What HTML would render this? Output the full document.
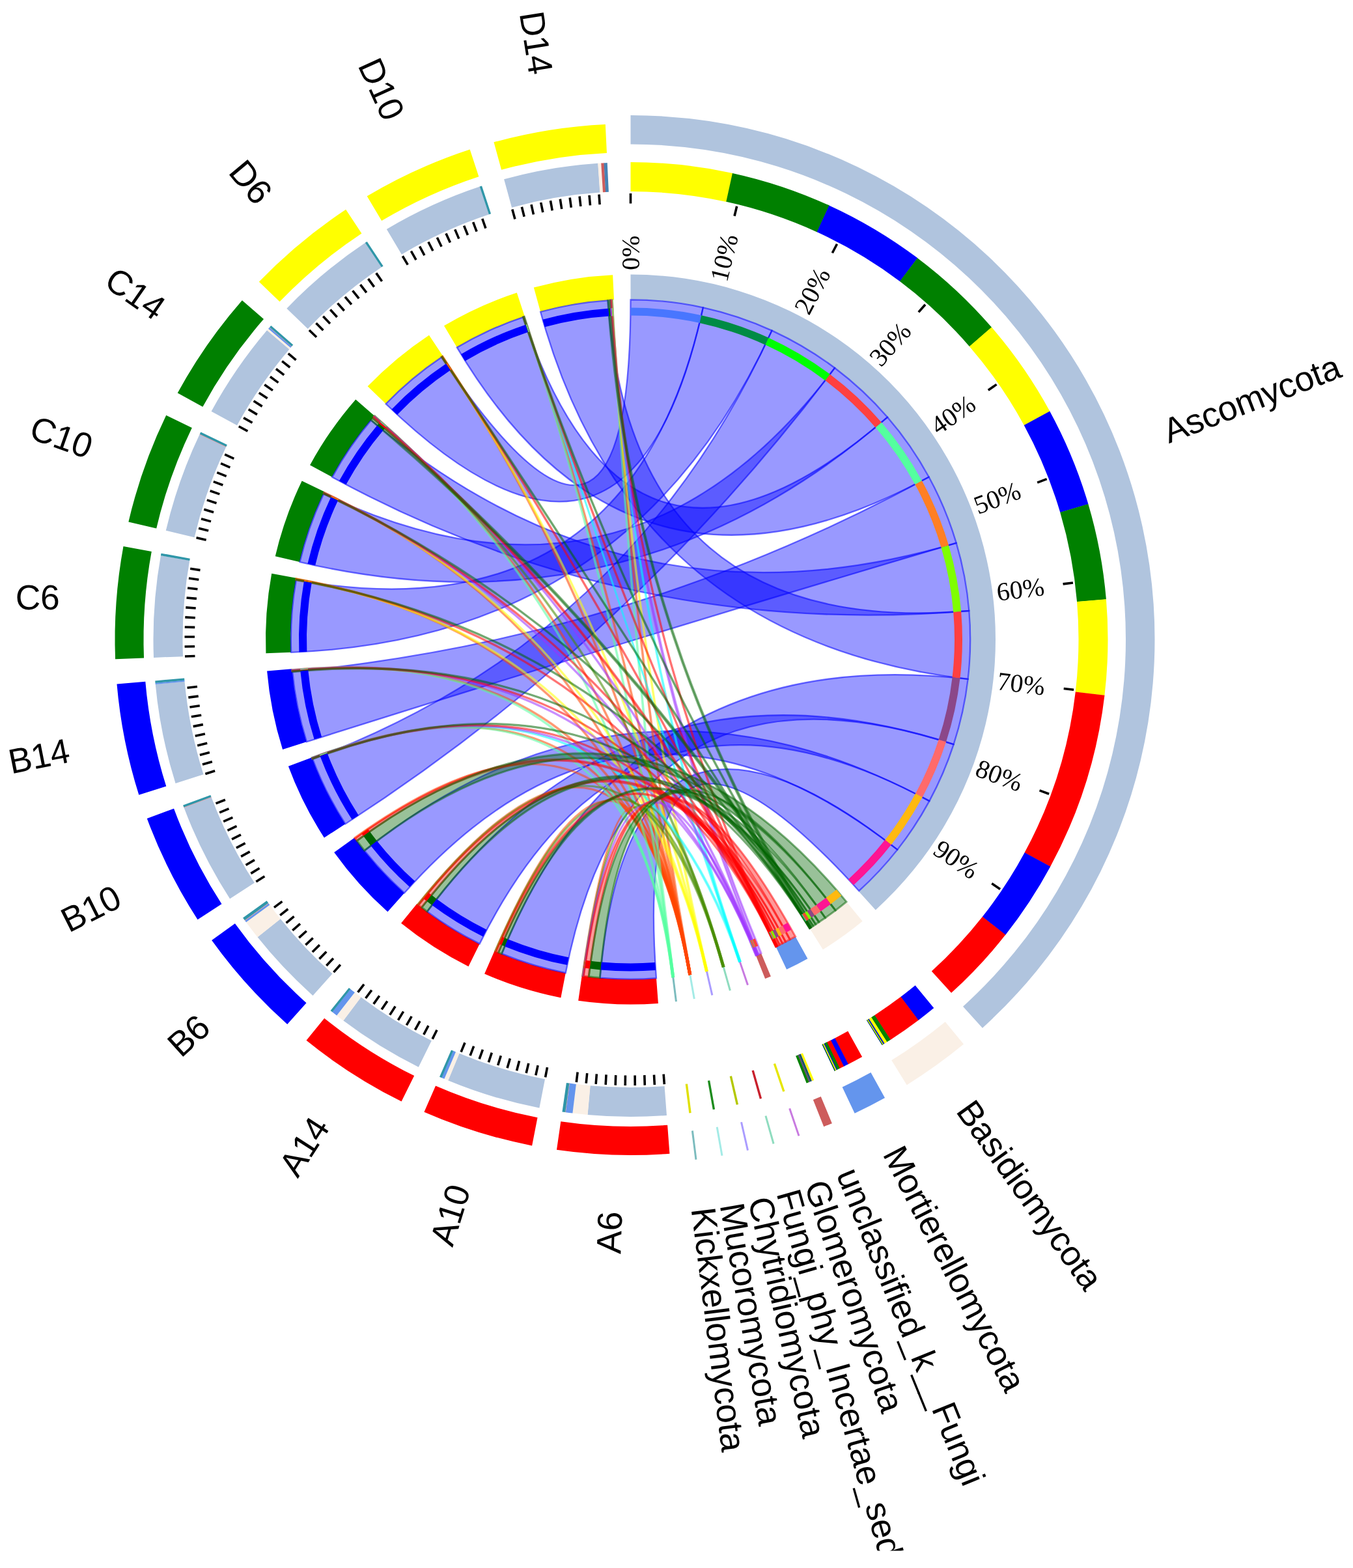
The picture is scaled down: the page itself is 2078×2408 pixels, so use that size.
<!DOCTYPE html>
<html><head><meta charset="utf-8"><title>Circos</title>
<style>html,body{margin:0;padding:0;background:#fff}svg{display:block}</style>
</head><body>
<svg xmlns="http://www.w3.org/2000/svg" width="2078" height="2408" viewBox="0 0 2078 2408">
<defs><clipPath id="cl"><rect x="0" y="0" width="2078" height="2381.5"/></clipPath></defs>
<rect width="2078" height="2408" fill="#fff"/>
<g id="outer">
<path d="M968.5 177A805 805 0 0 1 1508.92 1578.63L1479.05 1545.65A760.5 760.5 0 0 0 968.5 221.5Z" fill="#b0c4de"/>
<path d="M1480 1603.6A805 805 0 0 1 1392.7 1666.16L1369.25 1628.34A760.5 760.5 0 0 0 1451.73 1569.24Z" fill="#faf0e6"/>
<path d="M1359.02 1685.93A805 805 0 0 1 1312.65 1709.73L1293.63 1669.5A760.5 760.5 0 0 0 1337.43 1647.02Z" fill="#6495ed"/>
<path d="M1277.86 1725.18A805 805 0 0 1 1265.23 1730.31L1248.83 1688.95A760.5 760.5 0 0 0 1260.76 1684.1Z" fill="#cd5c5c"/>
<line x1="1212.7" y1="1702.23" x2="1226.99" y2="1744.37" stroke="#c87ae0" stroke-width="3"/>
<line x1="1175.95" y1="1713.66" x2="1188.09" y2="1756.47" stroke="#8fdcbf" stroke-width="3"/>
<line x1="1138.54" y1="1723.25" x2="1148.49" y2="1766.62" stroke="#aa9cff" stroke-width="3"/>
<line x1="1101.21" y1="1730.83" x2="1108.98" y2="1774.65" stroke="#a4ebe6" stroke-width="3"/>
<line x1="1063.42" y1="1736.55" x2="1068.98" y2="1780.71" stroke="#7cbcbe" stroke-width="3"/>
<path d="M1028.43 1771.73A792 792 0 0 1 854.99 1765.82L861.3 1722.28A748 748 0 0 0 1025.1 1727.86Z" fill="#ff0000"/>
<path d="M817.11 1759.4A792 792 0 0 1 651.42 1707.76L669.04 1667.44A748 748 0 0 0 825.52 1716.21Z" fill="#ff0000"/>
<path d="M616.6 1691.53A792 792 0 0 1 470.51 1597.85L498.17 1563.63A748 748 0 0 0 636.15 1652.11Z" fill="#ff0000"/>
<path d="M441.22 1572.97A792 792 0 0 1 325.17 1443.94L360.91 1418.28A748 748 0 0 0 470.52 1540.14Z" fill="#0000ff"/>
<path d="M303.52 1412.19A792 792 0 0 1 225.79 1257.03L267.05 1241.75A748 748 0 0 0 340.46 1388.29Z" fill="#0000ff"/>
<path d="M213.32 1220.69A792 792 0 0 1 179.47 1050.48L223.3 1046.67A748 748 0 0 0 255.28 1207.43Z" fill="#0000ff"/>
<path d="M177.07 1012.13A792 792 0 0 1 189.51 839.03L232.79 846.97A748 748 0 0 0 221.04 1010.45Z" fill="#008000"/>
<path d="M197.36 801.42A792 792 0 0 1 255.21 637.79L294.83 656.92A748 748 0 0 0 240.2 811.45Z" fill="#008000"/>
<path d="M272.74 603.6A792 792 0 0 1 371.86 461.15L405.01 490.09A748 748 0 0 0 311.39 624.63Z" fill="#008000"/>
<path d="M397.82 432.83A792 792 0 0 1 531.14 321.72L555.43 358.4A748 748 0 0 0 429.53 463.34Z" fill="#ffff00"/>
<path d="M563.67 301.28A792 792 0 0 1 721.66 229.45L735.37 271.26A748 748 0 0 0 586.16 339.1Z" fill="#ffff00"/>
<path d="M758.45 218.36A792 792 0 0 1 929.81 190.95L931.96 234.89A748 748 0 0 0 770.12 260.79Z" fill="#ffff00"/>
</g>
<g id="comp">
<path d="M968.5 249A733 733 0 0 1 1125.28 265.96L1115.65 309.92A688 688 0 0 0 968.5 294Z" fill="#ffff00"/>
<path d="M1124.9 265.88A733 733 0 0 1 1273.75 315.58L1255.01 356.5A688 688 0 0 0 1115.3 309.84Z" fill="#008000"/>
<path d="M1273.4 315.42A733 733 0 0 1 1409.32 396.37L1382.26 432.32A688 688 0 0 0 1254.68 356.35Z" fill="#0000ff"/>
<path d="M1409.02 396.14A733 733 0 0 1 1523.13 502.75L1489.08 532.17A688 688 0 0 0 1381.97 432.11Z" fill="#008000"/>
<path d="M1522.88 502.46A733 733 0 0 1 1612.43 631.79L1572.9 653.29A688 688 0 0 0 1488.84 531.9Z" fill="#ffff00"/>
<path d="M1612.25 631.46A733 733 0 0 1 1671.46 774.31L1628.3 787.06A688 688 0 0 0 1572.72 652.98Z" fill="#0000ff"/>
<path d="M1671.35 773.94A733 733 0 0 1 1698.92 920.54L1654.08 924.31A688 688 0 0 0 1628.2 786.71Z" fill="#008000"/>
<path d="M1698.89 920.15A733 733 0 0 1 1696.43 1068.03L1651.75 1062.75A688 688 0 0 0 1654.05 923.95Z" fill="#ffff00"/>
<path d="M1696.48 1067.65A733 733 0 0 1 1613.1 1330.97L1573.53 1309.55A688 688 0 0 0 1651.79 1062.39Z" fill="#ff0000"/>
<path d="M1613.28 1330.63A733 733 0 0 1 1544.06 1435.9L1508.72 1408.03A688 688 0 0 0 1573.7 1309.23Z" fill="#0000ff"/>
<path d="M1544.3 1435.59A733 733 0 0 1 1461.06 1524.84L1430.82 1491.51A688 688 0 0 0 1508.95 1407.75Z" fill="#ff0000"/>
<path d="M1434.25 1548.01A733 733 0 0 1 1410.32 1566.88L1383.2 1530.97A688 688 0 0 0 1405.66 1513.26Z" fill="#0000ff"/>
<path d="M1410.63 1566.65A733 733 0 0 1 1367.5 1596.89L1343.01 1559.14A688 688 0 0 0 1383.49 1530.75Z" fill="#ff0000"/>
<path d="M1367.82 1596.68A733 733 0 0 1 1362.08 1600.37L1337.92 1562.41A688 688 0 0 0 1343.31 1558.94Z" fill="#008000"/>
<path d="M1362.4 1600.17A733 733 0 0 1 1358.2 1602.82L1334.28 1564.71A688 688 0 0 0 1338.22 1562.22Z" fill="#ffff00"/>
<path d="M1358.53 1602.62A733 733 0 0 1 1356.9 1603.64L1333.06 1565.47A688 688 0 0 0 1334.58 1564.52Z" fill="#0000ff"/>
<path d="M1357.31 1603.38A733 733 0 0 1 1355.68 1604.4L1331.91 1566.19A688 688 0 0 0 1333.44 1565.23Z" fill="#008000"/>
<path d="M1356.71 1603.76A733 733 0 0 1 1355.08 1604.77L1331.34 1566.54A688 688 0 0 0 1332.87 1565.59Z" fill="#ffff00"/>
<path d="M1356.22 1604.06A733 733 0 0 1 1354.76 1604.97L1331.05 1566.73A688 688 0 0 0 1332.42 1565.87Z" fill="#ffff00"/>
<path d="M1355.73 1604.37A733 733 0 0 1 1354.76 1604.97L1331.05 1566.73A688 688 0 0 0 1331.96 1566.16Z" fill="#008000"/>
<path d="M1355.25 1604.67A733 733 0 0 1 1354.76 1604.97L1331.05 1566.73A688 688 0 0 0 1331.5 1566.44Z" fill="#0000ff"/>
<path d="M1324.09 1622.97A733 733 0 0 1 1302.54 1634.46L1282.03 1594.41A688 688 0 0 0 1302.26 1583.62Z" fill="#ff0000"/>
<path d="M1302.88 1634.29A733 733 0 0 1 1295.71 1637.91L1275.62 1597.65A688 688 0 0 0 1282.35 1594.24Z" fill="#0000ff"/>
<path d="M1296.05 1637.74A733 733 0 0 1 1289.53 1640.96L1269.82 1600.51A688 688 0 0 0 1275.94 1597.49Z" fill="#ff0000"/>
<path d="M1289.87 1640.79A733 733 0 0 1 1285.39 1642.96L1265.94 1602.38A688 688 0 0 0 1270.14 1600.35Z" fill="#008000"/>
<path d="M1285.74 1642.79A733 733 0 0 1 1284.01 1643.62L1264.64 1603A688 688 0 0 0 1266.26 1602.23Z" fill="#0000ff"/>
<path d="M1284.63 1643.32A733 733 0 0 1 1282.9 1644.15L1263.6 1603.5A688 688 0 0 0 1265.23 1602.72Z" fill="#ffff00"/>
<path d="M1283.94 1643.65A733 733 0 0 1 1282.21 1644.48L1262.95 1603.81A688 688 0 0 0 1264.58 1603.03Z" fill="#ffff00"/>
<path d="M1283.53 1643.85A733 733 0 0 1 1281.87 1644.64L1262.63 1603.96A688 688 0 0 0 1264.19 1603.22Z" fill="#ffff00"/>
<path d="M1283.11 1644.05A733 733 0 0 1 1281.87 1644.64L1262.63 1603.96A688 688 0 0 0 1263.8 1603.4Z" fill="#008000"/>
<path d="M1282.7 1644.24A733 733 0 0 1 1281.87 1644.64L1262.63 1603.96A688 688 0 0 0 1263.41 1603.59Z" fill="#008000"/>
<path d="M1282.28 1644.44A733 733 0 0 1 1281.87 1644.64L1262.63 1603.96A688 688 0 0 0 1263.02 1603.77Z" fill="#0000ff"/>
<path d="M1250.19 1658.71A733 733 0 0 1 1246.39 1660.28L1229.33 1618.64A688 688 0 0 0 1232.9 1617.17Z" fill="#ffff00"/>
<path d="M1246.75 1660.14A733 733 0 0 1 1245.47 1660.66L1228.47 1618.99A688 688 0 0 0 1229.67 1618.5Z" fill="#0000ff"/>
<path d="M1245.83 1660.51A733 733 0 0 1 1244.32 1661.12L1227.39 1619.43A688 688 0 0 0 1228.8 1618.86Z" fill="#008000"/>
<path d="M1244.68 1660.98A733 733 0 0 1 1243.52 1661.45L1226.64 1619.74A688 688 0 0 0 1227.72 1619.3Z" fill="#6a5a78"/>
<path d="M1243.88 1661.31A733 733 0 0 1 1242.94 1661.68L1226.1 1619.96A688 688 0 0 0 1226.97 1619.6Z" fill="#0000ff"/>
<path d="M1243.3 1661.54A733 733 0 0 1 1242.02 1662.05L1225.23 1620.3A688 688 0 0 0 1226.43 1619.82Z" fill="#8a6a3a"/>
<path d="M1242.38 1661.91A733 733 0 0 1 1238.69 1663.38L1222.1 1621.55A688 688 0 0 0 1225.57 1620.17Z" fill="#008000"/>
<line x1="1189.42" y1="1633.57" x2="1203.87" y2="1676.18" stroke="#e6e600" stroke-width="3.4"/>
<line x1="1156.18" y1="1643.91" x2="1168.45" y2="1687.2" stroke="#c8202c" stroke-width="3.4"/>
<line x1="1122.33" y1="1652.58" x2="1132.39" y2="1696.44" stroke="#b4c800" stroke-width="3.4"/>
<line x1="1088.56" y1="1659.44" x2="1096.41" y2="1703.75" stroke="#1e8c1e" stroke-width="3.4"/>
<line x1="1054.37" y1="1664.62" x2="1059.99" y2="1709.27" stroke="#e0e000" stroke-width="3.4"/>
<path d="M1023.97 1712.9A733 733 0 0 1 902.35 1712.01L906.41 1667.19A688 688 0 0 0 1020.56 1668.03Z" fill="#b0c4de"/>
<path d="M902.6 1712.03A733 733 0 0 1 879.14 1709.53L884.63 1664.87A688 688 0 0 0 906.65 1667.21Z" fill="#faf0e6"/>
<path d="M879.4 1709.56A733 733 0 0 1 868.61 1708.16L874.74 1663.58A688 688 0 0 0 884.87 1664.9Z" fill="#6495ed"/>
<path d="M868.86 1708.2A733 733 0 0 1 867.97 1708.07L874.15 1663.5A688 688 0 0 0 874.98 1663.61Z" fill="#e39aa2"/>
<path d="M868.23 1708.11A733 733 0 0 1 863.45 1707.43L869.9 1662.9A688 688 0 0 0 874.38 1663.53Z" fill="#2f96a8"/>
<path d="M828.39 1701.48A733 733 0 0 1 688.14 1659.26L705.35 1617.69A688 688 0 0 0 836.99 1657.31Z" fill="#b0c4de"/>
<path d="M688.37 1659.36A733 733 0 0 1 682.2 1656.78L699.78 1615.35A688 688 0 0 0 705.57 1617.78Z" fill="#faf0e6"/>
<path d="M682.44 1656.87A733 733 0 0 1 678.2 1655.07L696.03 1613.75A688 688 0 0 0 700 1615.44Z" fill="#6495ed"/>
<path d="M678.44 1655.17A733 733 0 0 1 675.04 1653.69L693.06 1612.46A688 688 0 0 0 696.25 1613.84Z" fill="#2f96a8"/>
<path d="M642.81 1638.67A733 733 0 0 1 527.19 1567.26L554.28 1531.33A688 688 0 0 0 662.81 1598.36Z" fill="#b0c4de"/>
<path d="M527.39 1567.42A733 733 0 0 1 516.98 1559.42L544.7 1523.97A688 688 0 0 0 554.48 1531.48Z" fill="#faf0e6"/>
<path d="M517.18 1559.58A733 733 0 0 1 510.16 1554.03L538.3 1518.91A688 688 0 0 0 544.89 1524.12Z" fill="#6495ed"/>
<path d="M510.36 1554.19A733 733 0 0 1 507.61 1551.97L535.9 1516.98A688 688 0 0 0 538.49 1519.06Z" fill="#2f96a8"/>
<path d="M480.5 1528.95A733 733 0 0 1 395.47 1439.09L430.65 1411.03A688 688 0 0 0 510.46 1495.37Z" fill="#b0c4de"/>
<path d="M395.63 1439.29A733 733 0 0 1 377.86 1416.09L414.12 1389.44A688 688 0 0 0 430.8 1411.22Z" fill="#faf0e6"/>
<path d="M378.01 1416.3A733 733 0 0 1 376.15 1413.75L412.52 1387.25A688 688 0 0 0 414.26 1389.64Z" fill="#6495ed"/>
<path d="M376.3 1413.96A733 733 0 0 1 375.68 1413.1L412.07 1386.64A688 688 0 0 0 412.66 1387.44Z" fill="#e39aa2"/>
<path d="M375.83 1413.31A733 733 0 0 1 373.09 1409.53L409.65 1383.28A688 688 0 0 0 412.21 1386.83Z" fill="#2f96a8"/>
<path d="M353.06 1380.15A733 733 0 0 1 282.55 1240.37L324.66 1224.51A688 688 0 0 0 390.84 1355.7Z" fill="#b0c4de"/>
<path d="M282.64 1240.61A733 733 0 0 1 282.26 1239.62L324.39 1223.81A688 688 0 0 0 324.74 1224.74Z" fill="#e39aa2"/>
<path d="M282.35 1239.86A733 733 0 0 1 281.12 1236.54L323.32 1220.92A688 688 0 0 0 324.48 1224.03Z" fill="#2f96a8"/>
<path d="M269.58 1202.91A733 733 0 0 1 238.73 1050.73L283.53 1046.51A688 688 0 0 0 312.49 1189.34Z" fill="#b0c4de"/>
<path d="M238.75 1050.99A733 733 0 0 1 238.54 1048.65L283.35 1044.56A688 688 0 0 0 283.55 1046.75Z" fill="#6495ed"/>
<path d="M238.56 1048.9A733 733 0 0 1 238.24 1045.38L283.08 1041.48A688 688 0 0 0 283.37 1044.79Z" fill="#2f96a8"/>
<path d="M236.03 1009.88A733 733 0 0 1 246.96 852.91L291.25 860.84A688 688 0 0 0 281 1008.17Z" fill="#b0c4de"/>
<path d="M246.91 853.16A733 733 0 0 1 247.54 849.68L291.8 857.8A688 688 0 0 0 291.21 861.07Z" fill="#2f96a8"/>
<path d="M254.81 814.87A733 733 0 0 1 306.51 667.27L347.15 686.59A688 688 0 0 0 298.62 825.13Z" fill="#b0c4de"/>
<path d="M306.4 667.5A733 733 0 0 1 306.92 666.4L347.54 685.77A688 688 0 0 0 347.05 686.81Z" fill="#e39aa2"/>
<path d="M306.81 666.63A733 733 0 0 1 308.34 663.44L348.87 682.99A688 688 0 0 0 347.43 685.99Z" fill="#2f96a8"/>
<path d="M324.57 631.79A733 733 0 0 1 410.17 507.07L444.45 536.23A688 688 0 0 0 364.1 653.29Z" fill="#b0c4de"/>
<path d="M410 507.27A733 733 0 0 1 412.26 504.63L446.41 533.93A688 688 0 0 0 444.29 536.41Z" fill="#faf0e6"/>
<path d="M412.09 504.82A733 733 0 0 1 413.94 502.67L447.99 532.1A688 688 0 0 0 446.25 534.11Z" fill="#6495ed"/>
<path d="M413.77 502.87A733 733 0 0 1 414.26 502.31L448.28 531.76A688 688 0 0 0 447.83 532.28Z" fill="#e39aa2"/>
<path d="M414.09 502.5A733 733 0 0 1 416.31 499.95L450.21 529.54A688 688 0 0 0 448.13 531.94Z" fill="#2f96a8"/>
<path d="M440.34 473.74A733 733 0 0 1 560.98 372.72L586 410.13A688 688 0 0 0 472.76 504.94Z" fill="#b0c4de"/>
<path d="M560.77 372.87A733 733 0 0 1 563.72 370.9L588.57 408.42A688 688 0 0 0 585.8 410.26Z" fill="#2f96a8"/>
<path d="M593.83 351.99A733 733 0 0 1 736.93 286.54L751.14 329.24A688 688 0 0 0 616.83 390.67Z" fill="#b0c4de"/>
<path d="M736.68 286.62A733 733 0 0 1 740.04 285.51L754.07 328.27A688 688 0 0 0 750.91 329.31Z" fill="#2f96a8"/>
<path d="M774.09 275.25A733 733 0 0 1 918.49 250.71L921.56 295.6A688 688 0 0 0 786.03 318.64Z" fill="#b0c4de"/>
<path d="M918.23 250.73A733 733 0 0 1 923.47 250.38L926.23 295.3A688 688 0 0 0 921.32 295.62Z" fill="#faf0e6"/>
<path d="M923.21 250.4A733 733 0 0 1 927.81 250.13L930.3 295.06A688 688 0 0 0 925.99 295.31Z" fill="#cd5c5c"/>
<path d="M927.55 250.14A733 733 0 0 1 932.69 249.88L934.89 294.82A688 688 0 0 0 930.06 295.07Z" fill="#4682b4"/>
</g>
<g id="ticks" stroke="#000" stroke-width="3.6">
<line x1="968.5" y1="312.5" x2="968.5" y2="297"/>
<line x1="1128.01" y1="331.78" x2="1131.7" y2="316.72"/>
<line x1="1278.32" y1="388.5" x2="1285.5" y2="374.76"/>
<line x1="1410.8" y1="479.41" x2="1421.04" y2="467.77"/>
<line x1="1517.81" y1="599.26" x2="1530.52" y2="590.39"/>
<line x1="1593.18" y1="741.15" x2="1607.64" y2="735.57"/>
<line x1="1632.57" y1="896.91" x2="1647.94" y2="894.94"/>
<line x1="1633.72" y1="1057.57" x2="1649.12" y2="1059.32"/>
<line x1="1596.56" y1="1213.88" x2="1611.1" y2="1219.25"/>
<line x1="1523.23" y1="1356.83" x2="1536.08" y2="1365.51"/>
<line x1="1019.16" y1="1649.58" x2="1020.34" y2="1665.04"/>
<line x1="1004.5" y1="1650.53" x2="1005.33" y2="1666.01"/>
<line x1="989.81" y1="1651.16" x2="990.3" y2="1666.65"/>
<line x1="975.11" y1="1651.47" x2="975.27" y2="1666.97"/>
<line x1="960.41" y1="1651.45" x2="960.23" y2="1666.95"/>
<line x1="945.72" y1="1651.11" x2="945.19" y2="1666.6"/>
<line x1="931.03" y1="1650.45" x2="930.17" y2="1665.93"/>
<line x1="916.37" y1="1649.47" x2="915.16" y2="1664.92"/>
<line x1="901.73" y1="1648.16" x2="900.18" y2="1663.58"/>
<line x1="887.12" y1="1646.54" x2="885.23" y2="1661.92"/>
<line x1="840.52" y1="1639.15" x2="837.56" y2="1654.37"/>
<line x1="826.13" y1="1636.19" x2="822.83" y2="1651.33"/>
<line x1="811.8" y1="1632.9" x2="808.17" y2="1647.97"/>
<line x1="797.55" y1="1629.31" x2="793.59" y2="1644.29"/>
<line x1="783.38" y1="1625.4" x2="779.09" y2="1640.29"/>
<line x1="769.3" y1="1621.18" x2="764.68" y2="1635.98"/>
<line x1="755.31" y1="1616.65" x2="750.38" y2="1631.34"/>
<line x1="741.43" y1="1611.82" x2="736.17" y2="1626.4"/>
<line x1="727.66" y1="1606.68" x2="722.08" y2="1621.14"/>
<line x1="714" y1="1601.24" x2="708.11" y2="1615.58"/>
<line x1="671.03" y1="1581.78" x2="664.14" y2="1595.67"/>
<line x1="657.93" y1="1575.11" x2="650.74" y2="1588.84"/>
<line x1="644.98" y1="1568.15" x2="637.49" y2="1581.72"/>
<line x1="632.19" y1="1560.9" x2="624.41" y2="1574.3"/>
<line x1="619.56" y1="1553.38" x2="611.49" y2="1566.61"/>
<line x1="607.1" y1="1545.58" x2="598.74" y2="1558.63"/>
<line x1="594.82" y1="1537.51" x2="586.17" y2="1550.37"/>
<line x1="582.71" y1="1529.17" x2="573.78" y2="1541.84"/>
<line x1="570.79" y1="1520.57" x2="561.58" y2="1533.04"/>
<line x1="559.06" y1="1511.71" x2="549.59" y2="1523.97"/>
<line x1="522.78" y1="1481.56" x2="512.46" y2="1493.13"/>
<line x1="511.92" y1="1471.66" x2="501.35" y2="1482.99"/>
<line x1="501.28" y1="1461.52" x2="490.46" y2="1472.62"/>
<line x1="490.86" y1="1451.14" x2="479.81" y2="1462"/>
<line x1="480.68" y1="1440.54" x2="469.39" y2="1451.16"/>
<line x1="470.73" y1="1429.72" x2="459.21" y2="1440.09"/>
<line x1="461.02" y1="1418.69" x2="449.27" y2="1428.8"/>
<line x1="451.56" y1="1407.44" x2="439.59" y2="1417.29"/>
<line x1="442.34" y1="1395.99" x2="430.16" y2="1405.57"/>
<line x1="433.38" y1="1384.34" x2="420.99" y2="1393.65"/>
<line x1="406.37" y1="1345.66" x2="393.36" y2="1354.07"/>
<line x1="398.53" y1="1333.23" x2="385.33" y2="1341.36"/>
<line x1="390.95" y1="1320.63" x2="377.58" y2="1328.47"/>
<line x1="383.66" y1="1307.87" x2="370.12" y2="1315.41"/>
<line x1="376.64" y1="1294.95" x2="362.94" y2="1302.19"/>
<line x1="369.92" y1="1281.88" x2="356.06" y2="1288.82"/>
<line x1="363.48" y1="1268.67" x2="349.47" y2="1275.3"/>
<line x1="357.33" y1="1255.31" x2="343.18" y2="1261.64"/>
<line x1="351.48" y1="1241.83" x2="337.19" y2="1247.84"/>
<line x1="345.92" y1="1228.22" x2="331.51" y2="1233.92"/>
<line x1="330.13" y1="1183.77" x2="315.35" y2="1188.44"/>
<line x1="325.85" y1="1169.7" x2="310.97" y2="1174.05"/>
<line x1="321.89" y1="1155.55" x2="306.92" y2="1159.57"/>
<line x1="318.23" y1="1141.31" x2="303.18" y2="1145"/>
<line x1="314.89" y1="1127" x2="299.76" y2="1130.35"/>
<line x1="311.86" y1="1112.61" x2="296.66" y2="1115.64"/>
<line x1="309.15" y1="1098.17" x2="293.89" y2="1100.85"/>
<line x1="306.76" y1="1083.66" x2="291.44" y2="1086.02"/>
<line x1="304.69" y1="1069.11" x2="289.32" y2="1071.13"/>
<line x1="302.94" y1="1054.51" x2="287.53" y2="1056.19"/>
<line x1="299.48" y1="1007.47" x2="284" y2="1008.06"/>
<line x1="299.09" y1="992.77" x2="283.59" y2="993.02"/>
<line x1="299.01" y1="978.07" x2="283.51" y2="977.98"/>
<line x1="299.26" y1="963.38" x2="283.77" y2="962.95"/>
<line x1="299.83" y1="948.69" x2="284.35" y2="947.92"/>
<line x1="300.72" y1="934.02" x2="285.26" y2="932.91"/>
<line x1="301.94" y1="919.37" x2="286.5" y2="917.92"/>
<line x1="303.47" y1="904.75" x2="288.08" y2="902.96"/>
<line x1="305.33" y1="890.17" x2="289.97" y2="888.04"/>
<line x1="307.5" y1="875.63" x2="292.2" y2="873.17"/>
<line x1="316.64" y1="829.35" x2="301.54" y2="825.81"/>
<line x1="320.14" y1="815.07" x2="305.13" y2="811.21"/>
<line x1="323.97" y1="800.88" x2="309.04" y2="796.68"/>
<line x1="328.1" y1="786.77" x2="313.27" y2="782.25"/>
<line x1="332.54" y1="772.76" x2="317.81" y2="767.91"/>
<line x1="337.28" y1="758.85" x2="322.67" y2="753.68"/>
<line x1="342.34" y1="745.04" x2="327.84" y2="739.56"/>
<line x1="347.69" y1="731.35" x2="333.32" y2="725.55"/>
<line x1="353.34" y1="717.78" x2="339.1" y2="711.67"/>
<line x1="359.29" y1="704.34" x2="345.19" y2="697.91"/>
<line x1="380.36" y1="662.13" x2="366.74" y2="654.73"/>
<line x1="387.52" y1="649.3" x2="374.07" y2="641.59"/>
<line x1="394.96" y1="636.62" x2="381.69" y2="628.63"/>
<line x1="402.68" y1="624.11" x2="389.59" y2="615.83"/>
<line x1="410.68" y1="611.78" x2="397.76" y2="603.21"/>
<line x1="418.94" y1="599.62" x2="406.22" y2="590.77"/>
<line x1="427.47" y1="587.65" x2="414.94" y2="578.52"/>
<line x1="436.26" y1="575.86" x2="423.93" y2="566.46"/>
<line x1="445.3" y1="564.28" x2="433.19" y2="554.61"/>
<line x1="454.6" y1="552.89" x2="442.7" y2="542.96"/>
<line x1="486.09" y1="517.77" x2="474.92" y2="507.02"/>
<line x1="496.4" y1="507.29" x2="485.47" y2="496.3"/>
<line x1="506.94" y1="497.04" x2="496.25" y2="485.81"/>
<line x1="517.69" y1="487.02" x2="507.26" y2="475.56"/>
<line x1="528.67" y1="477.24" x2="518.49" y2="465.56"/>
<line x1="539.86" y1="467.71" x2="529.93" y2="455.8"/>
<line x1="551.25" y1="458.42" x2="541.59" y2="446.3"/>
<line x1="562.85" y1="449.39" x2="553.46" y2="437.06"/>
<line x1="574.64" y1="440.61" x2="565.52" y2="428.08"/>
<line x1="586.62" y1="432.09" x2="577.78" y2="419.36"/>
<line x1="626.29" y1="406.57" x2="618.37" y2="393.25"/>
<line x1="639.01" y1="399.19" x2="631.38" y2="385.7"/>
<line x1="651.88" y1="392.1" x2="644.55" y2="378.44"/>
<line x1="664.91" y1="385.29" x2="657.88" y2="371.48"/>
<line x1="678.08" y1="378.77" x2="671.36" y2="364.8"/>
<line x1="691.39" y1="372.54" x2="684.98" y2="358.43"/>
<line x1="704.84" y1="366.6" x2="698.74" y2="352.35"/>
<line x1="718.42" y1="360.96" x2="712.63" y2="346.58"/>
<line x1="732.11" y1="355.62" x2="726.64" y2="341.12"/>
<line x1="745.92" y1="350.58" x2="740.77" y2="335.96"/>
<line x1="790.94" y1="336.48" x2="786.82" y2="321.53"/>
<line x1="805.15" y1="332.73" x2="801.37" y2="317.7"/>
<line x1="819.44" y1="329.3" x2="815.99" y2="314.19"/>
<line x1="833.81" y1="326.19" x2="830.69" y2="311.01"/>
<line x1="848.24" y1="323.39" x2="845.46" y2="308.14"/>
<line x1="862.73" y1="320.91" x2="860.28" y2="305.6"/>
<line x1="877.27" y1="318.75" x2="875.16" y2="303.39"/>
<line x1="891.85" y1="316.9" x2="890.08" y2="301.5"/>
<line x1="906.47" y1="315.38" x2="905.04" y2="299.95"/>
<line x1="921.12" y1="314.18" x2="920.03" y2="298.72"/>
</g>
<g id="ticklabels" font-family="'Liberation Serif', serif" font-size="40" fill="#000">
<text transform="translate(968.5 415) rotate(-90)" dy="0.33em">0%</text>
<text transform="translate(1103.59 431.33) rotate(-76.22)" dy="0.33em">10%</text>
<text transform="translate(1230.89 479.37) rotate(-62.43)" dy="0.33em">20%</text>
<text transform="translate(1343.09 556.35) rotate(-48.65)" dy="0.33em">30%</text>
<text transform="translate(1433.71 657.85) rotate(-34.87)" dy="0.33em">40%</text>
<text transform="translate(1497.54 778.02) rotate(-21.08)" dy="0.33em">50%</text>
<text transform="translate(1530.9 909.93) rotate(-7.3)" dy="0.33em">60%</text>
<text transform="translate(1531.88 1046) rotate(6.48)" dy="0.33em">70%</text>
<text transform="translate(1500.41 1178.38) rotate(20.26)" dy="0.33em">80%</text>
<text transform="translate(1438.3 1299.45) rotate(34.05)" dy="0.33em">90%</text>
</g>
<g id="ring">
<path d="M968.5 421.5A560.5 560.5 0 0 1 1344.78 1397.42L1318.94 1368.88A522 522 0 0 0 968.5 460Z" fill="#b0c4de"/>
<path d="M1324.64 1414.81A560.5 560.5 0 0 1 1263.86 1458.36L1243.57 1425.64A522 522 0 0 0 1300.18 1385.08Z" fill="#faf0e6"/>
<path d="M1240.41 1472.13A560.5 560.5 0 0 1 1208.12 1488.7L1191.66 1453.89A522 522 0 0 0 1221.73 1438.46Z" fill="#6495ed"/>
<path d="M1183.9 1499.46A560.5 560.5 0 0 1 1175.11 1503.03L1160.92 1467.24A522 522 0 0 0 1169.1 1463.92Z" fill="#cd5c5c"/>
<line x1="1136.12" y1="1476.36" x2="1148.48" y2="1512.82" stroke="#c87ae0" stroke-width="3"/>
<line x1="1110.89" y1="1484.2" x2="1121.4" y2="1521.24" stroke="#8fdcbf" stroke-width="3"/>
<line x1="1085.21" y1="1490.78" x2="1093.82" y2="1528.31" stroke="#aa9cff" stroke-width="3"/>
<line x1="1059.59" y1="1495.99" x2="1066.31" y2="1533.9" stroke="#a4ebe6" stroke-width="3"/>
<line x1="1033.65" y1="1499.92" x2="1038.46" y2="1538.12" stroke="#7cbcbe" stroke-width="3"/>
<path d="M1010.92 1540.89A560.5 560.5 0 0 1 888.17 1536.71L893.69 1498.61A522 522 0 0 0 1008 1502.5Z" fill="#ff0000"/>
<path d="M861.36 1532.16A560.5 560.5 0 0 1 744.1 1495.62L759.52 1460.34A522 522 0 0 0 868.72 1494.37Z" fill="#ff0000"/>
<path d="M719.46 1484.13A560.5 560.5 0 0 1 616.07 1417.84L640.28 1387.9A522 522 0 0 0 736.56 1449.64Z" fill="#ff0000"/>
<path d="M595.35 1400.23A560.5 560.5 0 0 1 513.21 1308.92L544.49 1286.46A522 522 0 0 0 620.98 1371.5Z" fill="#0000ff"/>
<path d="M497.89 1286.45A560.5 560.5 0 0 1 442.88 1176.64L478.99 1163.27A522 522 0 0 0 530.22 1265.54Z" fill="#0000ff"/>
<path d="M434.06 1150.92A560.5 560.5 0 0 1 410.1 1030.46L448.45 1027.13A522 522 0 0 0 470.77 1139.32Z" fill="#0000ff"/>
<path d="M408.41 1003.32A560.5 560.5 0 0 1 417.21 880.82L455.08 887.77A522 522 0 0 0 446.88 1001.86Z" fill="#008000"/>
<path d="M422.76 854.2A560.5 560.5 0 0 1 463.7 738.41L498.38 755.14A522 522 0 0 0 460.25 862.98Z" fill="#008000"/>
<path d="M476.11 714.21A560.5 560.5 0 0 1 546.26 613.39L575.26 638.71A522 522 0 0 0 509.93 732.6Z" fill="#008000"/>
<path d="M564.63 593.35A560.5 560.5 0 0 1 658.98 514.72L680.24 546.81A522 522 0 0 0 592.37 620.04Z" fill="#ffff00"/>
<path d="M682 500.25A560.5 560.5 0 0 1 793.81 449.42L805.81 486A522 522 0 0 0 701.68 533.34Z" fill="#ffff00"/>
<path d="M819.84 441.57A560.5 560.5 0 0 1 941.12 422.17L943 460.62A522 522 0 0 0 830.06 478.69Z" fill="#ffff00"/>
</g>
<g id="ribbons" stroke-linejoin="miter" stroke-miterlimit="2" stroke-width="2.3">
<g fill="rgba(0,0,255,0.4)" stroke="rgba(0,0,255,0.55)">
<path d="M968.5 460.3A521.7 521.7 0 0 1 1079.82 472.31Q968.5 982 592.59 620.25A521.7 521.7 0 0 1 678.28 548.48Q968.5 982 968.5 460.3Z"/>
<path d="M1079.82 472.31A521.7 521.7 0 0 1 1185.51 507.58Q968.5 982 447.18 1001.84A521.7 521.7 0 0 1 454.85 890.69Q968.5 982 1079.82 472.31Z"/>
<path d="M1185.51 507.58A521.7 521.7 0 0 1 1282.03 565.02Q968.5 982 530.47 1265.37A521.7 521.7 0 0 1 480.16 1165.56Q968.5 982 1185.51 507.58Z"/>
<path d="M1282.03 565.02A521.7 521.7 0 0 1 1363.07 640.7Q968.5 982 460.54 863.05A521.7 521.7 0 0 1 497.15 758.39Q968.5 982 1282.03 565.02Z"/>
<path d="M1363.07 640.7A521.7 521.7 0 0 1 1426.67 732.51Q968.5 982 701.84 533.6A521.7 521.7 0 0 1 803.39 487.12Q968.5 982 1363.07 640.7Z"/>
<path d="M1426.67 732.51A521.7 521.7 0 0 1 1468.74 833.92Q968.5 982 471.06 1139.23A521.7 521.7 0 0 1 449.17 1031.64Q968.5 982 1426.67 732.51Z"/>
<path d="M1468.74 833.92A521.7 521.7 0 0 1 1488.34 937.98Q968.5 982 510.2 732.75A521.7 521.7 0 0 1 569.97 645.33Q968.5 982 1468.74 833.92Z"/>
<path d="M1488.34 937.98A521.7 521.7 0 0 1 1486.63 1042.96Q968.5 982 830.13 478.98A521.7 521.7 0 0 1 933.65 461.47Q968.5 982 1488.34 937.98Z"/>
<path d="M1486.63 1042.96A521.7 521.7 0 0 1 1464.69 1143.13Q968.5 982 868.78 1494.08A521.7 521.7 0 0 1 770.54 1464.68Q968.5 982 1486.63 1042.96Z"/>
<path d="M1464.69 1143.13A521.7 521.7 0 0 1 1427.41 1230.13Q968.5 982 736.7 1449.37A521.7 521.7 0 0 1 656.06 1399.8Q968.5 982 1464.69 1143.13Z"/>
<path d="M1427.41 1230.13A521.7 521.7 0 0 1 1378.31 1304.84Q968.5 982 621.18 1371.28A521.7 521.7 0 0 1 559.82 1306.27Q968.5 982 1427.41 1230.13Z"/>
<path d="M1378.31 1304.84A521.7 521.7 0 0 1 1319.27 1368.17Q968.5 982 1007.98 1502.2A521.7 521.7 0 0 1 921.4 1501.57Q968.5 982 1378.31 1304.84Z"/>
</g>
<g fill="rgba(255,69,0,0.4)" stroke="rgba(255,69,0,0.5)" stroke-width="3">
<path d="M1060.44 1495.54A521.7 521.7 0 0 1 1058.64 1495.85Q968.5 982 939.38 461.11A521.7 521.7 0 0 1 940.47 461.05Q968.5 982 1060.44 1495.54Z"/>
<path d="M1060.44 1495.54A521.7 521.7 0 0 1 1058.64 1495.85Q968.5 982 804.34 486.8A521.7 521.7 0 0 1 805.38 486.46Q968.5 982 1060.44 1495.54Z"/>
<path d="M1060.44 1495.54A521.7 521.7 0 0 1 1058.64 1495.85Q968.5 982 678.96 548.02A521.7 521.7 0 0 1 679.87 547.41Q968.5 982 1060.44 1495.54Z"/>
<path d="M1060.44 1495.54A521.7 521.7 0 0 1 1058.64 1495.85Q968.5 982 574.89 639.6A521.7 521.7 0 0 1 575.49 638.91Q968.5 982 1060.44 1495.54Z"/>
<path d="M1060.44 1495.54A521.7 521.7 0 0 1 1058.64 1495.85Q968.5 982 497.66 757.32A521.7 521.7 0 0 1 498.13 756.33Q968.5 982 1060.44 1495.54Z"/>
<path d="M1060.44 1495.54A521.7 521.7 0 0 1 1058.64 1495.85Q968.5 982 455 889.88A521.7 521.7 0 0 1 455.19 888.81Q968.5 982 1060.44 1495.54Z"/>
<path d="M1060.44 1495.54A521.7 521.7 0 0 1 1058.64 1495.85Q968.5 982 448.97 1029.56A521.7 521.7 0 0 1 448.87 1028.47Q968.5 982 1060.44 1495.54Z"/>
<path d="M1060.44 1495.54A521.7 521.7 0 0 1 1058.64 1495.85Q968.5 982 479.74 1164.45A521.7 521.7 0 0 1 479.36 1163.42Q968.5 982 1060.44 1495.54Z"/>
<path d="M1060.44 1495.54A521.7 521.7 0 0 1 1058.64 1495.85Q968.5 982 545.53 1287.39A521.7 521.7 0 0 1 544.89 1286.51Q968.5 982 1060.44 1495.54Z"/>
<path d="M1060.44 1495.54A521.7 521.7 0 0 1 1058.64 1495.85Q968.5 982 642.67 1389.44A521.7 521.7 0 0 1 641.81 1388.75Q968.5 982 1060.44 1495.54Z"/>
<path d="M1060.44 1495.54A521.7 521.7 0 0 1 1058.64 1495.85Q968.5 982 761.56 1460.9A521.7 521.7 0 0 1 760.56 1460.47Q968.5 982 1060.44 1495.54Z"/>
<path d="M1060.44 1495.54A521.7 521.7 0 0 1 1058.64 1495.85Q968.5 982 895.71 1498.6A521.7 521.7 0 0 1 894.63 1498.44Q968.5 982 1060.44 1495.54Z"/>
</g>
<g fill="rgba(84,255,159,0.4)" stroke="rgba(84,255,159,0.5)" stroke-width="3">
<path d="M1034.52 1499.51A521.7 521.7 0 0 1 1032.71 1499.73Q968.5 982 939.2 461.12A521.7 521.7 0 0 1 940.29 461.06Q968.5 982 1034.52 1499.51Z"/>
<path d="M1034.52 1499.51A521.7 521.7 0 0 1 1032.71 1499.73Q968.5 982 804.17 486.86A521.7 521.7 0 0 1 805.21 486.51Q968.5 982 1034.52 1499.51Z"/>
<path d="M1034.52 1499.51A521.7 521.7 0 0 1 1032.71 1499.73Q968.5 982 574.77 639.73A521.7 521.7 0 0 1 575.49 638.91Q968.5 982 1034.52 1499.51Z"/>
<path d="M1034.52 1499.51A521.7 521.7 0 0 1 1032.71 1499.73Q968.5 982 448.99 1029.74A521.7 521.7 0 0 1 448.89 1028.65Q968.5 982 1034.52 1499.51Z"/>
<path d="M1034.52 1499.51A521.7 521.7 0 0 1 1032.71 1499.73Q968.5 982 479.81 1164.62A521.7 521.7 0 0 1 479.42 1163.59Q968.5 982 1034.52 1499.51Z"/>
</g>
<g fill="rgba(255,255,0,0.4)" stroke="rgba(255,255,0,0.5)" stroke-width="3">
<path d="M1086.03 1490.29A521.7 521.7 0 0 1 1084.26 1490.7Q968.5 982 939.01 461.13A521.7 521.7 0 0 1 940.11 461.07Q968.5 982 1086.03 1490.29Z"/>
<path d="M1086.03 1490.29A521.7 521.7 0 0 1 1084.26 1490.7Q968.5 982 678.81 548.12A521.7 521.7 0 0 1 679.72 547.52Q968.5 982 1086.03 1490.29Z"/>
<path d="M1086.03 1490.29A521.7 521.7 0 0 1 1084.26 1490.7Q968.5 982 497.58 757.48A521.7 521.7 0 0 1 498.05 756.5Q968.5 982 1086.03 1490.29Z"/>
<path d="M1086.03 1490.29A521.7 521.7 0 0 1 1084.26 1490.7Q968.5 982 454.96 890.06A521.7 521.7 0 0 1 455.16 888.99Q968.5 982 1086.03 1490.29Z"/>
</g>
<g fill="rgba(69,139,0,0.4)" stroke="rgba(69,139,0,0.5)" stroke-width="3">
<path d="M1111.69 1483.67A521.7 521.7 0 0 1 1109.94 1484.16Q968.5 982 574.65 639.87A521.7 521.7 0 0 1 575.37 639.05Q968.5 982 1111.69 1483.67Z"/>
<path d="M1111.69 1483.67A521.7 521.7 0 0 1 1109.94 1484.16Q968.5 982 642.81 1389.55A521.7 521.7 0 0 1 641.96 1388.87Q968.5 982 1111.69 1483.67Z"/>
<path d="M1111.69 1483.67A521.7 521.7 0 0 1 1109.94 1484.16Q968.5 982 761.73 1460.97A521.7 521.7 0 0 1 760.72 1460.54Q968.5 982 1111.69 1483.67Z"/>
<path d="M1111.69 1483.67A521.7 521.7 0 0 1 1109.94 1484.16Q968.5 982 895.89 1498.62A521.7 521.7 0 0 1 894.81 1498.47Q968.5 982 1111.69 1483.67Z"/>
</g>
<g fill="rgba(0,255,255,0.4)" stroke="rgba(0,255,255,0.5)" stroke-width="3">
<path d="M1136.88 1475.78A521.7 521.7 0 0 1 1135.16 1476.36Q968.5 982 938.83 461.14A521.7 521.7 0 0 1 939.92 461.08Q968.5 982 1136.88 1475.78Z"/>
<path d="M1136.88 1475.78A521.7 521.7 0 0 1 1135.16 1476.36Q968.5 982 804 486.91A521.7 521.7 0 0 1 805.04 486.57Q968.5 982 1136.88 1475.78Z"/>
<path d="M1136.88 1475.78A521.7 521.7 0 0 1 1135.16 1476.36Q968.5 982 479.87 1164.79A521.7 521.7 0 0 1 479.49 1163.76Q968.5 982 1136.88 1475.78Z"/>
</g>
<g fill="rgba(155,48,255,0.4)" stroke="rgba(155,48,255,0.5)" stroke-width="3">
<path d="M1168.99 1463.64A521.7 521.7 0 0 1 1164.45 1465.5Q968.5 982 936.56 461.28A521.7 521.7 0 0 1 938.38 461.17Q968.5 982 1168.99 1463.64Z"/>
<path d="M1164.45 1465.5A521.7 521.7 0 0 1 1163.43 1465.91Q968.5 982 574.41 640.15A521.7 521.7 0 0 1 575.13 639.32Q968.5 982 1164.45 1465.5Z"/>
<path d="M1163.54 1465.87A521.7 521.7 0 0 1 1162.52 1466.28Q968.5 982 896.25 1498.67A521.7 521.7 0 0 1 895.17 1498.52Q968.5 982 1163.54 1465.87Z"/>
<path d="M1162.63 1466.24A521.7 521.7 0 0 1 1161.61 1466.64Q968.5 982 497.46 757.73A521.7 521.7 0 0 1 497.94 756.75Q968.5 982 1162.63 1466.24Z"/>
<path d="M1161.94 1466.51A521.7 521.7 0 0 1 1160.93 1466.91Q968.5 982 449.01 1030.01A521.7 521.7 0 0 1 448.91 1028.92Q968.5 982 1161.94 1466.51Z"/>
<path d="M1161.26 1466.78A521.7 521.7 0 0 1 1160.8 1466.96Q968.5 982 479.93 1164.96A521.7 521.7 0 0 1 479.55 1163.94Q968.5 982 1161.26 1466.78Z"/>
</g>
<g fill="rgba(255,0,0,0.4)" stroke="rgba(255,0,0,0.5)" stroke-width="3">
<path d="M1221.58 1438.2A521.7 521.7 0 0 1 1213.16 1442.78Q968.5 982 904.2 1499.72A521.7 521.7 0 0 1 896.25 1498.67Q968.5 982 1221.58 1438.2Z"/>
<path d="M1213.16 1442.78A521.7 521.7 0 0 1 1206.49 1446.25Q968.5 982 647.74 1393.44A521.7 521.7 0 0 1 642.81 1389.55Q968.5 982 1213.16 1442.78Z"/>
<path d="M1206.49 1446.25A521.7 521.7 0 0 1 1201.63 1448.71Q968.5 982 548.21 1291.07A521.7 521.7 0 0 1 545.53 1287.39Q968.5 982 1206.49 1446.25Z"/>
<path d="M1201.63 1448.71A521.7 521.7 0 0 1 1197.23 1450.88Q968.5 982 765.49 1462.58A521.7 521.7 0 0 1 761.73 1460.97Q968.5 982 1201.63 1448.71Z"/>
<path d="M1197.23 1450.88A521.7 521.7 0 0 1 1194.29 1452.31Q968.5 982 572.63 642.21A521.7 521.7 0 0 1 574.41 640.15Q968.5 982 1197.23 1450.88Z"/>
<path d="M1194.29 1452.31A521.7 521.7 0 0 1 1193.3 1452.78Q968.5 982 449.08 1030.73A521.7 521.7 0 0 1 448.98 1029.65Q968.5 982 1194.29 1452.31Z"/>
<path d="M1193.5 1452.69A521.7 521.7 0 0 1 1192.52 1453.16Q968.5 982 938.38 461.17A521.7 521.7 0 0 1 939.47 461.11Q968.5 982 1193.5 1452.69Z"/>
<path d="M1193.01 1452.92A521.7 521.7 0 0 1 1192.02 1453.39Q968.5 982 803.74 487A521.7 521.7 0 0 1 804.78 486.66Q968.5 982 1193.01 1452.92Z"/>
<path d="M1192.72 1453.06A521.7 521.7 0 0 1 1191.73 1453.53Q968.5 982 678.58 548.27A521.7 521.7 0 0 1 679.49 547.67Q968.5 982 1192.72 1453.06Z"/>
<path d="M1192.42 1453.2A521.7 521.7 0 0 1 1191.53 1453.62Q968.5 982 497.35 757.98A521.7 521.7 0 0 1 497.82 756.99Q968.5 982 1192.42 1453.2Z"/>
<path d="M1192.13 1453.34A521.7 521.7 0 0 1 1191.53 1453.62Q968.5 982 454.92 890.33A521.7 521.7 0 0 1 455.11 889.26Q968.5 982 1192.13 1453.34Z"/>
<path d="M1191.83 1453.48A521.7 521.7 0 0 1 1191.53 1453.62Q968.5 982 480.03 1165.21A521.7 521.7 0 0 1 479.65 1164.19Q968.5 982 1191.83 1453.48Z"/>
</g>
<g fill="rgba(0,100,0,0.4)" stroke="rgba(0,100,0,0.5)" stroke-width="3">
<path d="M1299.99 1384.85A521.7 521.7 0 0 1 1283.18 1398.11Q968.5 982 559.82 1306.27A521.7 521.7 0 0 1 548.21 1291.07Q968.5 982 1299.99 1384.85Z"/>
<path d="M1283.18 1398.11A521.7 521.7 0 0 1 1267.51 1409.51Q968.5 982 921.4 1501.57A521.7 521.7 0 0 1 904.2 1499.72Q968.5 982 1283.18 1398.11Z"/>
<path d="M1267.51 1409.51A521.7 521.7 0 0 1 1257.82 1416.12Q968.5 982 656.06 1399.8A521.7 521.7 0 0 1 647.74 1393.44Q968.5 982 1267.51 1409.51Z"/>
<path d="M1257.82 1416.12A521.7 521.7 0 0 1 1252.71 1419.49Q968.5 982 770.54 1464.68A521.7 521.7 0 0 1 765.49 1462.58Q968.5 982 1257.82 1416.12Z"/>
<path d="M1252.71 1419.49A521.7 521.7 0 0 1 1248.85 1421.97Q968.5 982 569.97 645.33A521.7 521.7 0 0 1 572.63 642.21Q968.5 982 1252.71 1419.49Z"/>
<path d="M1248.85 1421.97A521.7 521.7 0 0 1 1246.09 1423.71Q968.5 982 933.65 461.47A521.7 521.7 0 0 1 936.56 461.28Q968.5 982 1248.85 1421.97Z"/>
<path d="M1246.09 1423.71A521.7 521.7 0 0 1 1245.17 1424.3Q968.5 982 449.17 1031.64A521.7 521.7 0 0 1 449.06 1030.55Q968.5 982 1246.09 1423.71Z"/>
<path d="M1245.23 1424.26A521.7 521.7 0 0 1 1244.3 1424.84Q968.5 982 497.15 758.39A521.7 521.7 0 0 1 497.62 757.4Q968.5 982 1245.23 1424.26Z"/>
<path d="M1244.8 1424.53A521.7 521.7 0 0 1 1243.87 1425.1Q968.5 982 803.39 487.12A521.7 521.7 0 0 1 804.43 486.77Q968.5 982 1244.8 1424.53Z"/>
<path d="M1244.45 1424.74A521.7 521.7 0 0 1 1243.52 1425.32Q968.5 982 678.28 548.48A521.7 521.7 0 0 1 679.19 547.87Q968.5 982 1244.45 1424.74Z"/>
<path d="M1244.11 1424.96A521.7 521.7 0 0 1 1243.41 1425.39Q968.5 982 454.85 890.69A521.7 521.7 0 0 1 455.05 889.61Q968.5 982 1244.11 1424.96Z"/>
<path d="M1243.76 1425.17A521.7 521.7 0 0 1 1243.41 1425.39Q968.5 982 480.16 1165.56A521.7 521.7 0 0 1 479.77 1164.53Q968.5 982 1243.76 1425.17Z"/>
</g>
</g>
<g id="bars">
<path d="M968.5 472.5A509.5 509.5 0 0 1 1077.39 484.27L1074.82 495.99A497.5 497.5 0 0 0 968.5 484.5Z" fill="#4876ff"/>
<path d="M601.38 628.71A509.5 509.5 0 0 1 685.07 558.61L691.74 568.59A497.5 497.5 0 0 0 610.03 637.03Z" fill="rgb(0,0,255)"/>
<path d="M1077.21 484.23A509.5 509.5 0 0 1 1180.6 518.74L1175.6 529.66A497.5 497.5 0 0 0 1074.65 495.96Z" fill="#008b45"/>
<path d="M459.37 1001.38A509.5 509.5 0 0 1 466.86 892.83L478.68 894.93A497.5 497.5 0 0 0 471.36 1000.92Z" fill="rgb(0,0,255)"/>
<path d="M1180.43 518.67A509.5 509.5 0 0 1 1274.84 574.88L1267.63 584.47A497.5 497.5 0 0 0 1175.44 529.58Z" fill="#00ff00"/>
<path d="M540.71 1258.75A509.5 509.5 0 0 1 491.58 1161.26L502.81 1157.04A497.5 497.5 0 0 0 550.79 1252.23Z" fill="rgb(0,0,255)"/>
<path d="M1274.7 574.77A509.5 509.5 0 0 1 1353.96 648.81L1344.88 656.66A497.5 497.5 0 0 0 1267.49 584.37Z" fill="#ff4040"/>
<path d="M472.42 865.83A509.5 509.5 0 0 1 508.17 763.62L519.02 768.76A497.5 497.5 0 0 0 484.1 868.56Z" fill="rgb(0,0,255)"/>
<path d="M1353.84 648.68A509.5 509.5 0 0 1 1416.04 738.5L1405.5 744.23A497.5 497.5 0 0 0 1344.76 656.53Z" fill="#54ff9f"/>
<path d="M708.07 544.09A509.5 509.5 0 0 1 807.25 498.69L811.05 510.07A497.5 497.5 0 0 0 714.21 554.4Z" fill="rgb(0,0,255)"/>
<path d="M1415.96 738.34A509.5 509.5 0 0 1 1457.09 837.55L1445.59 840.95A497.5 497.5 0 0 0 1405.42 744.08Z" fill="#ff7f24"/>
<path d="M482.69 1135.55A509.5 509.5 0 0 1 461.31 1030.48L473.26 1029.34A497.5 497.5 0 0 0 494.13 1131.93Z" fill="rgb(0,0,255)"/>
<path d="M1457.04 837.38A509.5 509.5 0 0 1 1476.2 939.19L1464.24 940.2A497.5 497.5 0 0 0 1445.54 840.79Z" fill="#7fff00"/>
<path d="M520.91 738.58A509.5 509.5 0 0 1 579.29 653.21L588.46 660.95A497.5 497.5 0 0 0 531.45 744.31Z" fill="rgb(0,0,255)"/>
<path d="M1476.18 939.01A509.5 509.5 0 0 1 1474.49 1041.71L1462.57 1040.3A497.5 497.5 0 0 0 1464.23 940.02Z" fill="#ff4040"/>
<path d="M833.37 490.75A509.5 509.5 0 0 1 934.47 473.64L935.27 485.61A497.5 497.5 0 0 0 836.55 502.32Z" fill="rgb(0,0,255)"/>
<path d="M1474.51 1041.53A509.5 509.5 0 0 1 1453.04 1139.53L1441.62 1135.82A497.5 497.5 0 0 0 1462.59 1040.13Z" fill="#8b4789"/>
<path d="M871.11 1482.11A509.5 509.5 0 0 1 775.17 1453.39L779.72 1442.29A497.5 497.5 0 0 0 873.4 1470.33Z" fill="rgb(0,0,255)"/>
<path d="M1453.09 1139.36A509.5 509.5 0 0 1 1416.6 1224.49L1406.04 1218.78A497.5 497.5 0 0 0 1441.68 1135.65Z" fill="#ff6a6a"/>
<path d="M742.12 1438.44A509.5 509.5 0 0 1 663.37 1390.03L670.56 1380.42A497.5 497.5 0 0 0 747.45 1427.69Z" fill="rgb(0,0,255)"/>
<path d="M1416.68 1224.33A509.5 509.5 0 0 1 1368.62 1297.43L1359.2 1290A497.5 497.5 0 0 0 1406.13 1218.62Z" fill="#ffb90f"/>
<path d="M629.3 1362.18A509.5 509.5 0 0 1 569.37 1298.68L578.77 1291.23A497.5 497.5 0 0 0 637.29 1353.22Z" fill="rgb(0,0,255)"/>
<path d="M1368.73 1297.29A509.5 509.5 0 0 1 1310.94 1359.26L1302.87 1350.38A497.5 497.5 0 0 0 1359.3 1289.86Z" fill="#ff1493"/>
<path d="M1007.06 1490.04A509.5 509.5 0 0 1 922.5 1489.42L923.58 1477.47A497.5 497.5 0 0 0 1006.15 1478.07Z" fill="rgb(0,0,255)"/>
<path d="M1292.24 1375.43A509.5 509.5 0 0 1 1275.82 1388.38L1268.58 1378.81A497.5 497.5 0 0 0 1284.61 1366.16Z" fill="#ffb90f"/>
<path d="M569.37 1298.68A509.5 509.5 0 0 1 558.04 1283.85L567.7 1276.74A497.5 497.5 0 0 0 578.77 1291.23Z" fill="rgb(0,100,0)"/>
<path d="M1275.82 1388.38A509.5 509.5 0 0 1 1260.52 1399.51L1253.64 1389.68A497.5 497.5 0 0 0 1268.58 1378.81Z" fill="#ff1493"/>
<path d="M922.5 1489.42A509.5 509.5 0 0 1 905.7 1487.62L907.18 1475.71A497.5 497.5 0 0 0 923.58 1477.47Z" fill="rgb(0,100,0)"/>
<path d="M1260.52 1399.51A509.5 509.5 0 0 1 1251.06 1405.97L1244.4 1395.99A497.5 497.5 0 0 0 1253.64 1389.68Z" fill="#ff6a6a"/>
<path d="M663.37 1390.03A509.5 509.5 0 0 1 655.24 1383.82L662.62 1374.36A497.5 497.5 0 0 0 670.56 1380.42Z" fill="rgb(0,100,0)"/>
<path d="M1251.06 1405.97A509.5 509.5 0 0 1 1246.07 1409.26L1239.53 1399.19A497.5 497.5 0 0 0 1244.4 1395.99Z" fill="#8b4789"/>
<path d="M775.17 1453.39A509.5 509.5 0 0 1 770.24 1451.34L774.91 1440.29A497.5 497.5 0 0 0 779.72 1442.29Z" fill="rgb(0,100,0)"/>
<path d="M1246.07 1409.26A509.5 509.5 0 0 1 1242.3 1411.68L1235.85 1401.56A497.5 497.5 0 0 0 1239.53 1399.19Z" fill="#7fff00"/>
<path d="M579.29 653.21A509.5 509.5 0 0 1 581.88 650.16L590.99 657.98A497.5 497.5 0 0 0 588.46 660.95Z" fill="rgb(0,100,0)"/>
<path d="M1242.3 1411.68A509.5 509.5 0 0 1 1239.6 1413.39L1233.22 1403.23A497.5 497.5 0 0 0 1235.85 1401.56Z" fill="#ff4040"/>
<path d="M934.47 473.64A509.5 509.5 0 0 1 937.31 473.46L938.04 485.43A497.5 497.5 0 0 0 935.27 485.61Z" fill="rgb(0,100,0)"/>
<path d="M1239.6 1413.39A509.5 509.5 0 0 1 1238.7 1413.95L1232.34 1403.78A497.5 497.5 0 0 0 1233.22 1403.23Z" fill="#ff7f24"/>
<path d="M461.31 1030.48A509.5 509.5 0 0 1 461.21 1029.42L473.16 1028.3A497.5 497.5 0 0 0 473.26 1029.34Z" fill="rgb(0,100,0)"/>
<path d="M1238.76 1413.91A509.5 509.5 0 0 1 1237.85 1414.48L1231.51 1404.29A497.5 497.5 0 0 0 1232.39 1403.74Z" fill="#ff4040"/>
<path d="M508.17 763.62A509.5 509.5 0 0 1 508.63 762.65L519.46 767.82A497.5 497.5 0 0 0 519.02 768.76Z" fill="rgb(0,100,0)"/>
<path d="M1238.34 1414.18A509.5 509.5 0 0 1 1237.43 1414.74L1231.1 1404.55A497.5 497.5 0 0 0 1231.98 1404Z" fill="#54ff9f"/>
<path d="M807.25 498.69A509.5 509.5 0 0 1 808.27 498.35L812.04 509.74A497.5 497.5 0 0 0 811.05 510.07Z" fill="rgb(0,100,0)"/>
<path d="M1238 1414.39A509.5 509.5 0 0 1 1237.09 1414.95L1230.77 1404.76A497.5 497.5 0 0 0 1231.65 1404.21Z" fill="#4876ff"/>
<path d="M685.07 558.61A509.5 509.5 0 0 1 685.95 558.02L692.61 568.01A497.5 497.5 0 0 0 691.74 568.59Z" fill="rgb(0,100,0)"/>
<path d="M1237.66 1414.6A509.5 509.5 0 0 1 1236.98 1415.02L1230.66 1404.82A497.5 497.5 0 0 0 1231.32 1404.41Z" fill="#008b45"/>
<path d="M466.86 892.83A509.5 509.5 0 0 1 467.05 891.78L478.86 893.9A497.5 497.5 0 0 0 478.68 894.93Z" fill="rgb(0,100,0)"/>
<path d="M1237.32 1414.81A509.5 509.5 0 0 1 1236.98 1415.02L1230.66 1404.82A497.5 497.5 0 0 0 1230.99 1404.62Z" fill="#00ff00"/>
<path d="M491.58 1161.26A509.5 509.5 0 0 1 491.2 1160.26L502.44 1156.07A497.5 497.5 0 0 0 502.81 1157.04Z" fill="rgb(0,100,0)"/>
<path d="M1215.67 1427.53A509.5 509.5 0 0 1 1207.44 1432L1201.81 1421.4A497.5 497.5 0 0 0 1209.84 1417.04Z" fill="#ff1493"/>
<path d="M905.7 1487.62A509.5 509.5 0 0 1 897.94 1486.59L899.61 1474.71A497.5 497.5 0 0 0 907.18 1475.71Z" fill="rgb(255,0,0)"/>
<path d="M1207.44 1432A509.5 509.5 0 0 1 1200.93 1435.4L1195.45 1424.72A497.5 497.5 0 0 0 1201.81 1421.4Z" fill="#ff6a6a"/>
<path d="M655.24 1383.82A509.5 509.5 0 0 1 650.42 1380.02L657.92 1370.64A497.5 497.5 0 0 0 662.62 1374.36Z" fill="rgb(255,0,0)"/>
<path d="M1200.93 1435.4A509.5 509.5 0 0 1 1196.18 1437.8L1190.81 1427.06A497.5 497.5 0 0 0 1195.45 1424.72Z" fill="#ffb90f"/>
<path d="M558.04 1283.85A509.5 509.5 0 0 1 555.42 1280.25L565.15 1273.23A497.5 497.5 0 0 0 567.7 1276.74Z" fill="rgb(255,0,0)"/>
<path d="M1196.18 1437.8A509.5 509.5 0 0 1 1191.88 1439.92L1186.62 1429.13A497.5 497.5 0 0 0 1190.81 1427.06Z" fill="#8b4789"/>
<path d="M770.24 1451.34A509.5 509.5 0 0 1 766.56 1449.77L771.32 1438.76A497.5 497.5 0 0 0 774.91 1440.29Z" fill="rgb(255,0,0)"/>
<path d="M1191.88 1439.92A509.5 509.5 0 0 1 1189.01 1441.31L1183.82 1430.49A497.5 497.5 0 0 0 1186.62 1429.13Z" fill="#7fff00"/>
<path d="M581.88 650.16A509.5 509.5 0 0 1 583.63 648.14L592.69 656A497.5 497.5 0 0 0 590.99 657.98Z" fill="rgb(255,0,0)"/>
<path d="M1189.01 1441.31A509.5 509.5 0 0 1 1188.05 1441.77L1182.88 1430.94A497.5 497.5 0 0 0 1183.82 1430.49Z" fill="#ff7f24"/>
<path d="M461.23 1029.59A509.5 509.5 0 0 1 461.13 1028.53L473.08 1027.44A497.5 497.5 0 0 0 473.18 1028.47Z" fill="rgb(255,0,0)"/>
<path d="M1188.24 1441.68A509.5 509.5 0 0 1 1187.28 1442.14L1182.13 1431.3A497.5 497.5 0 0 0 1183.07 1430.85Z" fill="#ff4040"/>
<path d="M939.08 473.35A509.5 509.5 0 0 1 940.15 473.29L940.82 485.27A497.5 497.5 0 0 0 939.78 485.33Z" fill="rgb(255,0,0)"/>
<path d="M1187.76 1441.91A509.5 509.5 0 0 1 1186.8 1442.37L1181.66 1431.52A497.5 497.5 0 0 0 1182.6 1431.08Z" fill="#54ff9f"/>
<path d="M807.59 498.58A509.5 509.5 0 0 1 808.61 498.24L812.37 509.63A497.5 497.5 0 0 0 811.38 509.96Z" fill="rgb(255,0,0)"/>
<path d="M1187.47 1442.04A509.5 509.5 0 0 1 1186.51 1442.5L1181.37 1431.66A497.5 497.5 0 0 0 1182.32 1431.21Z" fill="#4876ff"/>
<path d="M685.36 558.42A509.5 509.5 0 0 1 686.25 557.82L692.9 567.81A497.5 497.5 0 0 0 692.03 568.39Z" fill="rgb(255,0,0)"/>
<path d="M1187.18 1442.18A509.5 509.5 0 0 1 1186.32 1442.59L1181.19 1431.74A497.5 497.5 0 0 0 1182.03 1431.34Z" fill="#ff4040"/>
<path d="M508.37 763.22A509.5 509.5 0 0 1 508.82 762.25L519.65 767.43A497.5 497.5 0 0 0 519.2 768.37Z" fill="rgb(255,0,0)"/>
<path d="M1186.9 1442.32A509.5 509.5 0 0 1 1186.32 1442.59L1181.19 1431.74A497.5 497.5 0 0 0 1181.75 1431.48Z" fill="#008b45"/>
<path d="M466.93 892.48A509.5 509.5 0 0 1 467.12 891.43L478.92 893.56A497.5 497.5 0 0 0 478.74 894.58Z" fill="rgb(255,0,0)"/>
<path d="M1186.61 1442.46A509.5 509.5 0 0 1 1186.32 1442.59L1181.19 1431.74A497.5 497.5 0 0 0 1181.47 1431.61Z" fill="#00ff00"/>
<path d="M491.45 1160.93A509.5 509.5 0 0 1 491.08 1159.93L502.32 1155.74A497.5 497.5 0 0 0 502.69 1156.72Z" fill="rgb(255,0,0)"/>
<path d="M1164.3 1452.38A509.5 509.5 0 0 1 1159.87 1454.2L1155.36 1443.07A497.5 497.5 0 0 0 1159.69 1441.3Z" fill="#ff4040"/>
<path d="M937.31 473.46A509.5 509.5 0 0 1 939.08 473.35L939.78 485.33A497.5 497.5 0 0 0 938.04 485.43Z" fill="rgb(155,48,255)"/>
<path d="M1159.87 1454.2A509.5 509.5 0 0 1 1158.88 1454.6L1154.39 1443.47A497.5 497.5 0 0 0 1155.36 1443.07Z" fill="#7fff00"/>
<path d="M583.63 648.14A509.5 509.5 0 0 1 584.33 647.34L593.37 655.22A497.5 497.5 0 0 0 592.69 656Z" fill="rgb(155,48,255)"/>
<path d="M1158.98 1454.56A509.5 509.5 0 0 1 1157.99 1454.95L1153.52 1443.81A497.5 497.5 0 0 0 1154.49 1443.43Z" fill="#ff1493"/>
<path d="M897.94 1486.59A509.5 509.5 0 0 1 896.89 1486.44L898.57 1474.56A497.5 497.5 0 0 0 899.61 1474.71Z" fill="rgb(155,48,255)"/>
<path d="M1158.09 1454.91A509.5 509.5 0 0 1 1157.1 1455.31L1152.66 1444.16A497.5 497.5 0 0 0 1153.62 1443.77Z" fill="#ff4040"/>
<path d="M508.48 762.98A509.5 509.5 0 0 1 508.94 762.01L519.76 767.19A497.5 497.5 0 0 0 519.31 768.13Z" fill="rgb(155,48,255)"/>
<path d="M1157.42 1455.18A509.5 509.5 0 0 1 1156.43 1455.57L1152 1444.42A497.5 497.5 0 0 0 1152.97 1444.04Z" fill="#ff7f24"/>
<path d="M461.16 1028.89A509.5 509.5 0 0 1 461.06 1027.82L473.02 1026.74A497.5 497.5 0 0 0 473.11 1027.78Z" fill="rgb(155,48,255)"/>
<path d="M1156.75 1455.45A509.5 509.5 0 0 1 1156.31 1455.62L1151.88 1444.47A497.5 497.5 0 0 0 1152.32 1444.3Z" fill="#00ff00"/>
<path d="M491.36 1160.68A509.5 509.5 0 0 1 490.99 1159.68L502.23 1155.5A497.5 497.5 0 0 0 502.6 1156.47Z" fill="rgb(155,48,255)"/>
<path d="M939.53 473.32A509.5 509.5 0 0 1 940.59 473.26L941.25 485.25A497.5 497.5 0 0 0 940.21 485.31Z" fill="rgb(0,255,255)"/>
<path d="M807.85 498.49A509.5 509.5 0 0 1 808.86 498.16L812.62 509.55A497.5 497.5 0 0 0 811.63 509.88Z" fill="rgb(0,255,255)"/>
<path d="M491.3 1160.51A509.5 509.5 0 0 1 490.92 1159.51L502.17 1155.33A497.5 497.5 0 0 0 502.54 1156.31Z" fill="rgb(0,255,255)"/>
<path d="M583.86 647.87A509.5 509.5 0 0 1 584.56 647.07L593.6 654.96A497.5 497.5 0 0 0 592.92 655.74Z" fill="rgb(69,139,0)"/>
<path d="M650.42 1380.02A509.5 509.5 0 0 1 649.59 1379.35L657.1 1369.99A497.5 497.5 0 0 0 657.92 1370.64Z" fill="rgb(69,139,0)"/>
<path d="M766.56 1449.77A509.5 509.5 0 0 1 765.58 1449.35L770.36 1438.34A497.5 497.5 0 0 0 771.32 1438.76Z" fill="rgb(69,139,0)"/>
<path d="M897.59 1486.54A509.5 509.5 0 0 1 896.53 1486.39L898.23 1474.51A497.5 497.5 0 0 0 899.26 1474.66Z" fill="rgb(69,139,0)"/>
<path d="M939.7 473.31A509.5 509.5 0 0 1 940.77 473.26L941.42 485.24A497.5 497.5 0 0 0 940.38 485.3Z" fill="rgb(255,255,0)"/>
<path d="M685.58 558.27A509.5 509.5 0 0 1 686.47 557.68L693.12 567.67A497.5 497.5 0 0 0 692.25 568.25Z" fill="rgb(255,255,0)"/>
<path d="M508.59 762.73A509.5 509.5 0 0 1 509.05 761.77L519.88 766.96A497.5 497.5 0 0 0 519.43 767.9Z" fill="rgb(255,255,0)"/>
<path d="M466.97 892.21A509.5 509.5 0 0 1 467.16 891.16L478.97 893.3A497.5 497.5 0 0 0 478.79 894.33Z" fill="rgb(255,255,0)"/>
<path d="M940.06 473.29A509.5 509.5 0 0 1 941.12 473.24L941.77 485.22A497.5 497.5 0 0 0 940.73 485.28Z" fill="rgb(255,69,0)"/>
<path d="M808.18 498.38A509.5 509.5 0 0 1 809.2 498.04L812.95 509.44A497.5 497.5 0 0 0 811.96 509.77Z" fill="rgb(255,69,0)"/>
<path d="M685.73 558.17A509.5 509.5 0 0 1 686.62 557.58L693.26 567.57A497.5 497.5 0 0 0 692.39 568.15Z" fill="rgb(255,69,0)"/>
<path d="M584.09 647.6A509.5 509.5 0 0 1 584.68 646.93L593.72 654.82A497.5 497.5 0 0 0 593.15 655.48Z" fill="rgb(255,69,0)"/>
<path d="M508.67 762.57A509.5 509.5 0 0 1 509.13 761.61L519.95 766.8A497.5 497.5 0 0 0 519.5 767.74Z" fill="rgb(255,69,0)"/>
<path d="M467.01 892.04A509.5 509.5 0 0 1 467.19 890.99L479 893.13A497.5 497.5 0 0 0 478.82 894.16Z" fill="rgb(255,69,0)"/>
<path d="M461.12 1028.44A509.5 509.5 0 0 1 461.02 1027.38L472.98 1026.31A497.5 497.5 0 0 0 473.07 1027.35Z" fill="rgb(255,69,0)"/>
<path d="M491.17 1160.18A509.5 509.5 0 0 1 490.8 1159.18L502.05 1155.01A497.5 497.5 0 0 0 502.41 1155.98Z" fill="rgb(255,69,0)"/>
<path d="M555.42 1280.25A509.5 509.5 0 0 1 554.8 1279.39L564.54 1272.38A497.5 497.5 0 0 0 565.15 1273.23Z" fill="rgb(255,69,0)"/>
<path d="M650.29 1379.91A509.5 509.5 0 0 1 649.45 1379.24L656.97 1369.88A497.5 497.5 0 0 0 657.78 1370.54Z" fill="rgb(255,69,0)"/>
<path d="M766.4 1449.7A509.5 509.5 0 0 1 765.42 1449.28L770.2 1438.27A497.5 497.5 0 0 0 771.16 1438.69Z" fill="rgb(255,69,0)"/>
<path d="M897.42 1486.52A509.5 509.5 0 0 1 896.36 1486.37L898.06 1474.49A497.5 497.5 0 0 0 899.09 1474.63Z" fill="rgb(255,69,0)"/>
<path d="M939.88 473.3A509.5 509.5 0 0 1 940.95 473.25L941.6 485.23A497.5 497.5 0 0 0 940.56 485.29Z" fill="rgb(84,255,159)"/>
<path d="M808.01 498.44A509.5 509.5 0 0 1 809.03 498.1L812.78 509.5A497.5 497.5 0 0 0 811.79 509.82Z" fill="rgb(84,255,159)"/>
<path d="M583.98 647.74A509.5 509.5 0 0 1 584.68 646.93L593.72 654.82A497.5 497.5 0 0 0 593.03 655.61Z" fill="rgb(84,255,159)"/>
<path d="M461.14 1028.62A509.5 509.5 0 0 1 461.04 1027.56L472.99 1026.48A497.5 497.5 0 0 0 473.09 1027.52Z" fill="rgb(84,255,159)"/>
<path d="M491.23 1160.35A509.5 509.5 0 0 1 490.86 1159.35L502.11 1155.17A497.5 497.5 0 0 0 502.48 1156.15Z" fill="rgb(84,255,159)"/>
</g>
<g id="labels" clip-path="url(#cl)" font-family="'Liberation Sans', sans-serif" font-size="53.4" letter-spacing="-0.4" fill="#000">
<text transform="translate(1789.12 665.6) rotate(-21.08)" dy="0.315em">Ascomycota</text>
<text transform="translate(1480.79 1696.9) rotate(54.38)" dy="0.315em">Basidiomycota</text>
<text transform="translate(1370.04 1764.49) rotate(62.83)" dy="0.315em">Mortierellomycota</text>
<text transform="translate(1299.6 1796.8) rotate(67.88)" dy="0.315em">unclassified_k__Fungi</text>
<text transform="translate(1250.92 1814.92) rotate(71.27)" dy="0.315em">Glomeromycota</text>
<text transform="translate(1208.41 1828.15) rotate(74.17)" dy="0.315em" letter-spacing="-0.17">Fungi_phy_Incertae_sedis</text>
<text transform="translate(1165.15 1839.23) rotate(77.08)" dy="0.315em">Chytridiomycota</text>
<text transform="translate(1121.98 1848) rotate(79.95)" dy="0.315em">Mucoromycota</text>
<text transform="translate(1078.27 1854.62) rotate(82.83)" dy="0.315em">Kickxellomycota</text>
<text transform="translate(938.57 1860.99) rotate(-88.05)" dy="0.315em" text-anchor="end">A6</text>
<text transform="translate(706.81 1821.67) rotate(-72.69)" dy="0.315em" text-anchor="end">A10</text>
<text transform="translate(493.75 1722.36) rotate(-57.33)" dy="0.315em" text-anchor="end">A14</text>
<text transform="translate(314.6 1570.16) rotate(-41.97)" dy="0.315em" text-anchor="end">B6</text>
<text transform="translate(182.16 1375.94) rotate(-26.61)" dy="0.315em" text-anchor="end">B10</text>
<text transform="translate(105.9 1153.58) rotate(-11.25)" dy="0.315em" text-anchor="end">B14</text>
<text transform="translate(91.26 918.96) rotate(0)" dy="0.315em" text-anchor="end">C6</text>
<text transform="translate(139.29 688.85) rotate(19.47)" dy="0.315em" text-anchor="end">C10</text>
<text transform="translate(246.56 479.68) rotate(34.83)" dy="0.315em" text-anchor="end">C14</text>
<text transform="translate(405.41 306.39) rotate(50.19)" dy="0.315em" text-anchor="end">D6</text>
<text transform="translate(604.48 181.37) rotate(65.55)" dy="0.315em" text-anchor="end">D10</text>
<text transform="translate(829.55 113.55) rotate(80.91)" dy="0.315em" text-anchor="end">D14</text>
</g>
</svg>
</body></html>
